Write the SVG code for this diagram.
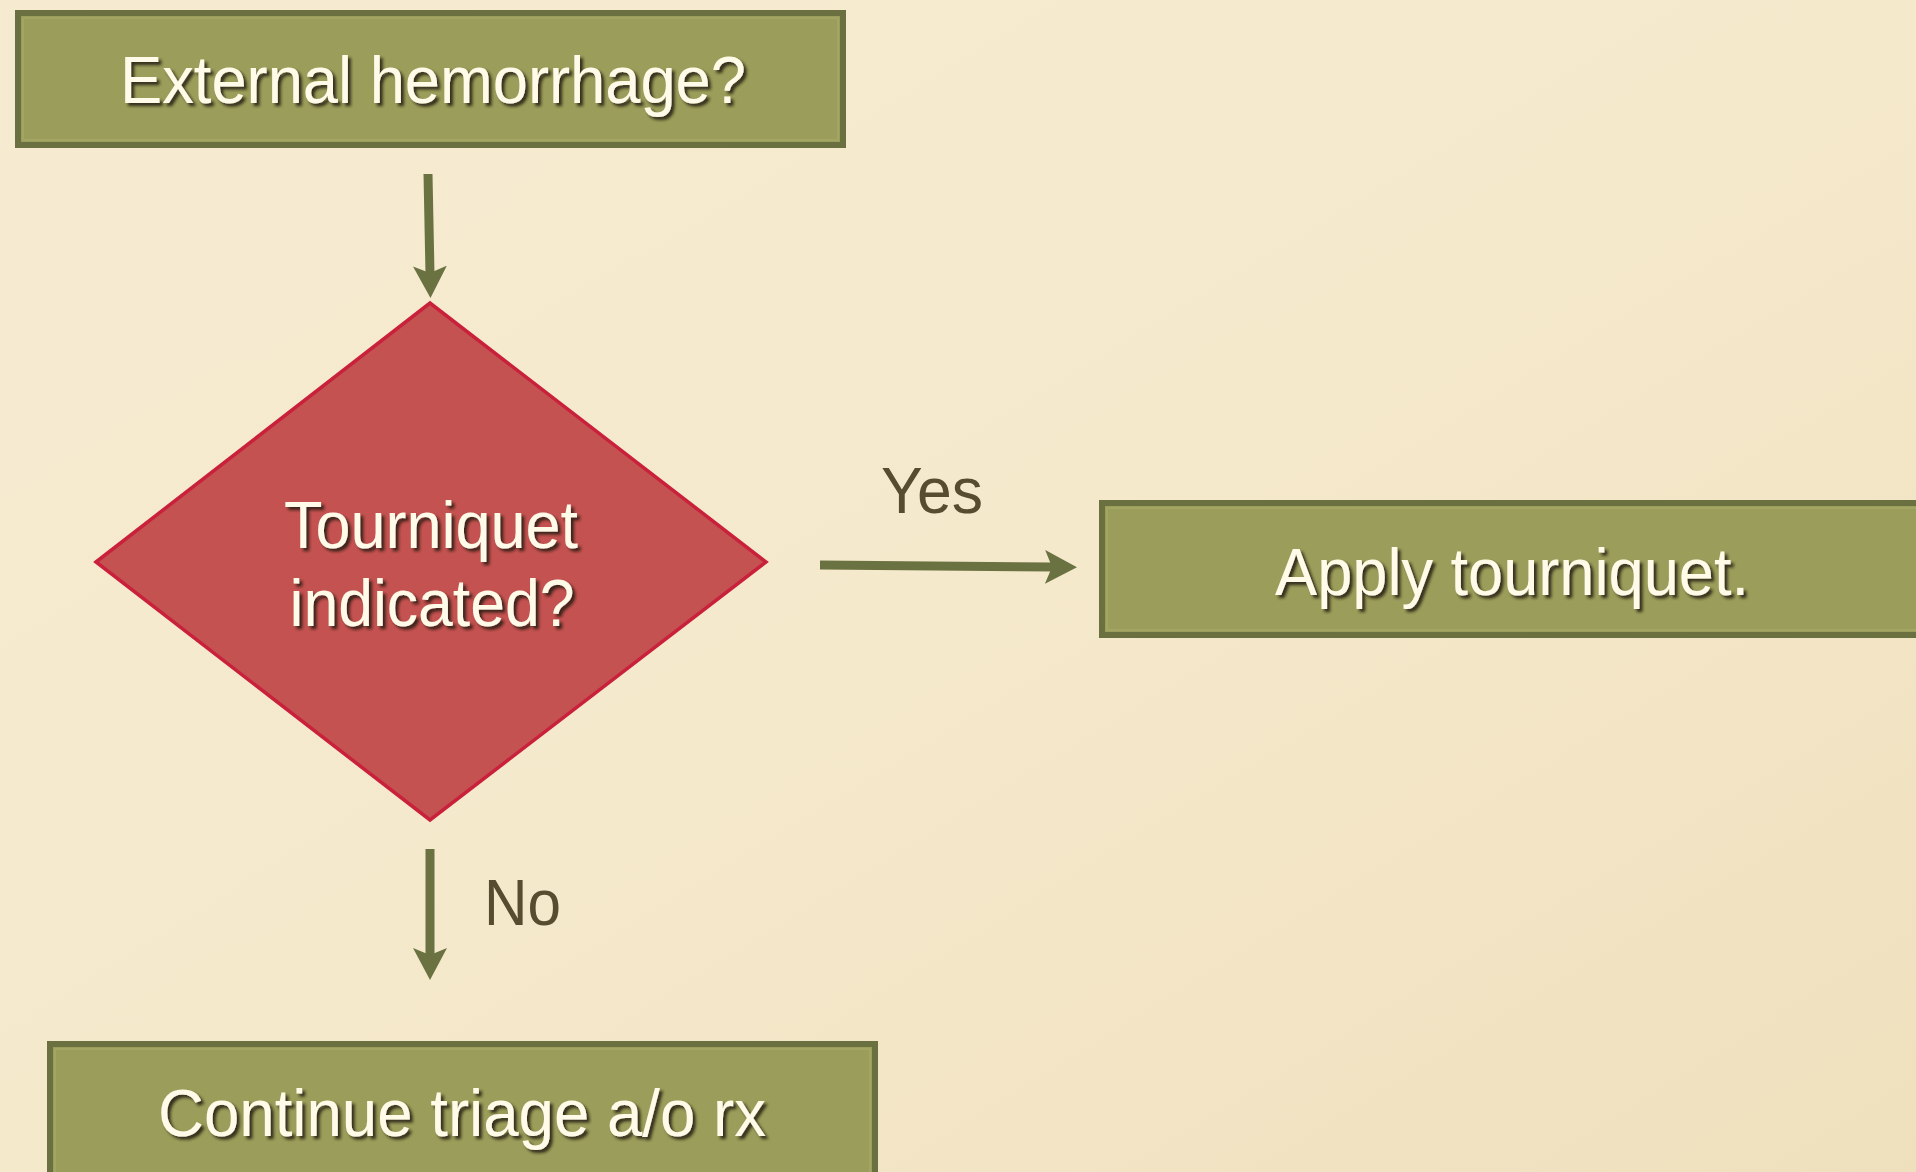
<svg xmlns="http://www.w3.org/2000/svg" width="1916" height="1172" viewBox="0 0 1916 1172">
<defs>
<linearGradient id="bg" x1="0" y1="0" x2="1" y2="1">
<stop offset="0" stop-color="#f6ebd1"/>
<stop offset="0.5" stop-color="#f5e9cc"/>
<stop offset="1" stop-color="#efe0bd"/>
</linearGradient>
<filter id="sh" x="-10%" y="-30%" width="120%" height="160%">
<feDropShadow dx="3" dy="3" stdDeviation="1.6" flood-color="#1a1408" flood-opacity="0.85"/>
</filter>
<marker id="ah" viewBox="0 0 32 34" refX="8" refY="17" markerWidth="32" markerHeight="34" markerUnits="userSpaceOnUse" orient="auto">
<path d="M0,0 L32,17 L0,34 L7,17 Z" fill="#6b7242"/>
</marker>
</defs>
<style>
.box{fill:#9b9d5a;stroke:#6b7041;stroke-width:6}
.inner{fill:none;stroke:#a3a563;stroke-width:2}
.dia{fill:#c45250;stroke:#c9213b;stroke-width:3.5}
.t{font-family:"Liberation Sans",Arial,sans-serif;font-size:66px;fill:#fffbe8;text-anchor:middle;filter:url(#sh)}
.lbl{font-family:"Liberation Sans",Arial,sans-serif;font-size:64px;fill:#574b30}
.con{stroke:#6b7242;stroke-width:9;fill:none;marker-end:url(#ah)}
</style>
<rect width="1916" height="1172" fill="url(#bg)"/>
<g id="n1">
<rect class="box" x="18" y="13" width="825" height="132"/>
<rect class="inner" x="23" y="18" width="815" height="122"/>
<text class="t" x="433" y="103" textLength="626" lengthAdjust="spacingAndGlyphs">External hemorrhage?</text>
</g>
<g id="n2">
<polygon class="dia" points="96,562 430,303 766,562 430,820"/>
<text class="t" x="431" y="548" textLength="294" lengthAdjust="spacingAndGlyphs">Tourniquet</text>
<text class="t" x="432" y="626" textLength="285" lengthAdjust="spacingAndGlyphs">indicated?</text>
</g>
<g id="n3">
<rect class="box" x="1102" y="503" width="830" height="132"/>
<rect class="inner" x="1107" y="508" width="830" height="122"/>
<text class="t" x="1512" y="595" textLength="474" lengthAdjust="spacingAndGlyphs">Apply tourniquet.</text>
</g>
<g id="n4">
<rect class="box" x="50" y="1044" width="825" height="150"/>
<rect class="inner" x="55" y="1049" width="815" height="140"/>
<text class="t" x="462" y="1136" textLength="608" lengthAdjust="spacingAndGlyphs">Continue triage a/o rx</text>
</g>
<g id="connectors">
<line class="con" x1="428" y1="174" x2="430" y2="274"/>
<line class="con" x1="820" y1="565" x2="1053" y2="567"/>
<line class="con" x1="430" y1="849" x2="430" y2="956"/>
<text class="lbl" x="881" y="513" textLength="102" lengthAdjust="spacingAndGlyphs">Yes</text>
<text class="lbl" x="484" y="925" textLength="77" lengthAdjust="spacingAndGlyphs">No</text>
</g>
</svg>
